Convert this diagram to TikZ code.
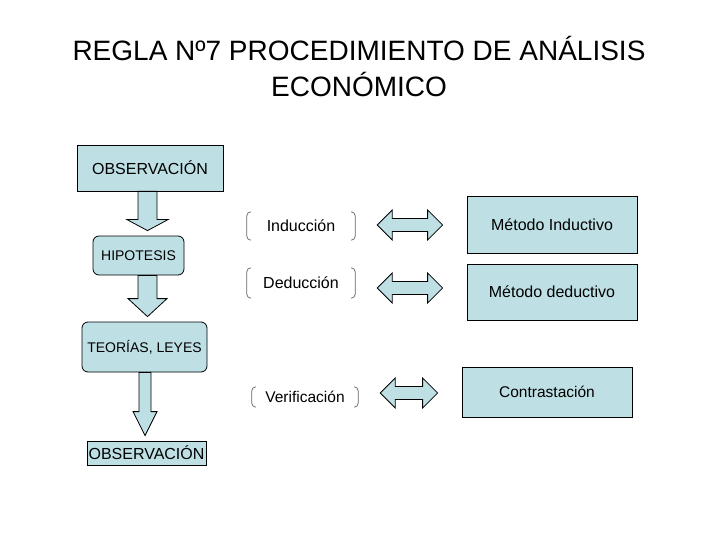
\documentclass[tikz,border=0pt]{standalone}
\usepackage{fontspec}
\setmainfont{Liberation Sans}
\usetikzlibrary{calc}

\definecolor{boxblue}{RGB}{190,224,229}
\definecolor{brkgray}{RGB}{100,100,100}

\tikzset{
    box/.style={draw=black, fill=boxblue, line width=0.8pt, inner sep=0pt},
    roundbox/.style={box, rounded corners=6pt},
    label/.style={inner sep=0pt},
    blockarrow/.style={draw=black, fill=boxblue, line width=0.8pt, line join=miter},
    brk/.style={draw=brkgray, line width=0.7pt}
}

% vertical block arrow: top node, bottom node, x, shaft half, head half, head length
\newcommand{\downblock}[6]{%
    \draw[blockarrow] ($(#1.south -| #3,0)+(-#4,0)$)
        -- ($(#2.north -| #3,0)+(-#4,-#6-5)$)
        -- ($(#2.north -| #3,0)+(-#5,-#6-5)$)
        -- ($(#2.north -| #3,0)+(0,-5)$)
        -- ($(#2.north -| #3,0)+(#5,-#6-5)$)
        -- ($(#2.north -| #3,0)+(#4,-#6-5)$)
        -- ($(#1.south -| #3,0)+(#4,0)$) -- cycle;
}
% horizontal double block arrow between two nodes, at height y
\newcommand{\dblblock}[3]{%
    \draw[blockarrow] ($(#1.east |- 0,#3)+(22,0)$)
        -- ($(#1.east |- 0,#3)+(37,-15)$) -- ($(#1.east |- 0,#3)+(37,-6.5)$)
        -- ($(#2.west |- 0,#3)+(-39,-6.5)$) -- ($(#2.west |- 0,#3)+(-39,-15)$)
        -- ($(#2.west |- 0,#3)+(-24,0)$)
        -- ($(#2.west |- 0,#3)+(-39,15)$) -- ($(#2.west |- 0,#3)+(-39,6.5)$)
        -- ($(#1.east |- 0,#3)+(37,6.5)$) -- ($(#1.east |- 0,#3)+(37,15)$) -- cycle;
}
% round brackets around a label node
\newcommand{\brackets}[1]{%
    \draw[brk] ([xshift=4pt]#1.north west) to[out=180,in=90] ([yshift=-4pt]#1.north west)
        -- ([yshift=4pt]#1.south west) to[out=-90,in=180] ([xshift=4pt]#1.south west);
    \draw[brk] ([xshift=-4pt]#1.north east) to[out=0,in=90] ([yshift=-4pt]#1.north east)
        -- ([yshift=4pt]#1.south east) to[out=-90,in=0] ([xshift=-4pt]#1.south east);
}

\begin{document}
\begin{tikzpicture}[x=1pt, y=-1pt]
    \useasboundingbox (0,0) rectangle (720,540);

    % Title
    \node (title) at (359,66) [align=center, font=\fontsize{28}{36}\selectfont]
        {REGLA Nº7 PROCEDIMIENTO DE ANÁLISIS\\ECONÓMICO};

    % Left column
    \node (obsA) at (150,168) [box, minimum width=146pt, minimum height=46pt,
        font=\fontsize{16}{19}\selectfont] {OBSERVACIÓN};
    \node (hip) at (138.5,255.5) [roundbox, minimum width=91pt, minimum height=39pt,
        font=\fontsize{14}{17}\selectfont] {HIPOTESIS};
    \node (teo) at (144.5,347) [roundbox, minimum width=125pt, minimum height=50pt,
        font=\fontsize{14}{17}\selectfont] {TEORÍAS, LEYES};
    \node (obsB) at (146.5,453) [box, minimum width=119pt, minimum height=24pt,
        font=\fontsize{16}{19}\selectfont] {OBSERVACIÓN};

    % Arrows down
    \downblock{obsA}{hip}{147.5}{9.5}{20.5}{11}
    \downblock{hip}{teo}{147.5}{9.5}{19.5}{18}
    \downblock{teo}{obsB}{145}{6}{12}{24}

    % Middle column
    \node (ind) at (301,226) [label, minimum width=108pt, minimum height=28pt,
        font=\fontsize{16}{19}\selectfont] {Inducción};
    \node (ded) at (301,283) [label, minimum width=108pt, minimum height=30pt,
        font=\fontsize{16}{19}\selectfont] {Deducción};
    \node (ver) at (305,397) [label, minimum width=106pt, minimum height=20pt,
        font=\fontsize{15.5}{18}\selectfont] {Verificación};
    \brackets{ind}
    \brackets{ded}
    \brackets{ver}

    % Right column
    \node (metI) at (552,224.5) [box, minimum width=170pt, minimum height=57pt,
        font=\fontsize{16}{19}\selectfont] {Método Inductivo};
    \node (metD) at (552,292) [box, minimum width=170pt, minimum height=56pt,
        font=\fontsize{16}{19}\selectfont] {Método deductivo};
    \node (con) at (547,392) [box, minimum width=170pt, minimum height=50pt,
        font=\fontsize{15.5}{18}\selectfont] {Contrastación};

    % Double arrows
    \dblblock{ind}{metI}{225}
    \dblblock{ded}{metD}{288}
    \dblblock{ver}{con}{393}
\end{tikzpicture}
\end{document}
